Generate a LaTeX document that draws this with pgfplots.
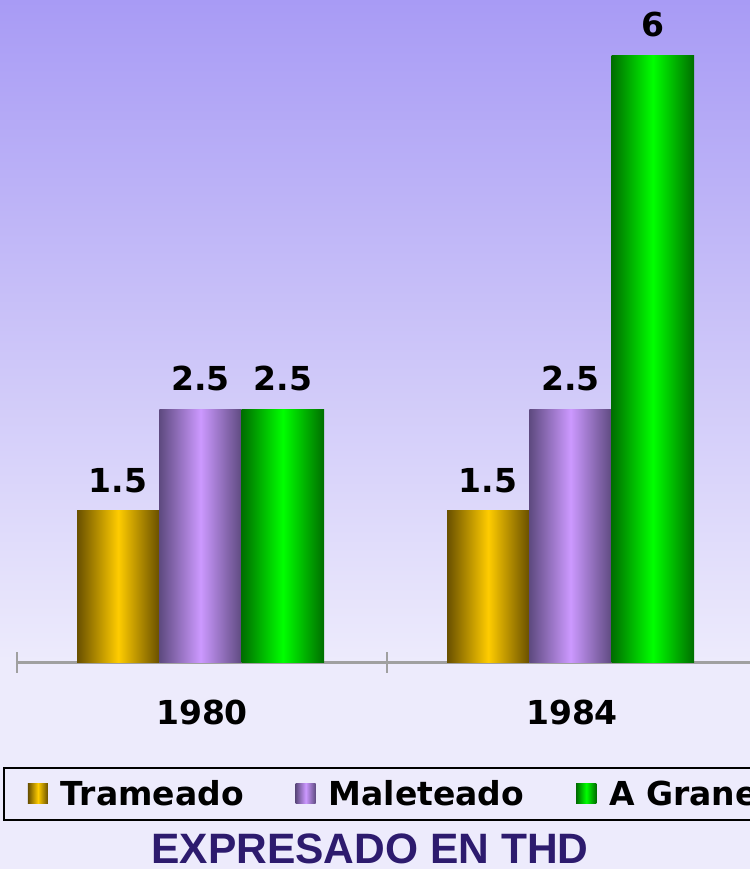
\documentclass[border=0pt]{standalone}
\usepackage{pgfplots}
\pgfplotsset{compat=1.18}
\usepackage{fontspec}
\setmainfont{DejaVu Sans}
\newfontfamily\titlefont{Liberation Sans}
\definecolor{bgtop}{RGB}{168,155,245}
\definecolor{bgbot}{RGB}{237,235,252}
\definecolor{ydark}{RGB}{105,80,0}
\definecolor{ylight}{RGB}{255,204,0}
\definecolor{pdark}{RGB}{94,74,128}
\definecolor{plight}{RGB}{204,153,255}
\definecolor{gdark}{RGB}{0,110,0}
\definecolor{glight}{RGB}{0,255,0}
\definecolor{axgray}{RGB}{160,160,160}
\definecolor{titlecol}{RGB}{45,27,110}
\pgfplotsset{
  serY/.style={ybar, bar width=0.2225, bar shift=-0.2265, draw=none, left color=ydark, right color=ydark, middle color=ylight,
    every node near coord/.append style={xshift=-83.8bp}},
  serP/.style={ybar, bar width=0.2225, bar shift=-0.004, draw=none, left color=pdark, right color=pdark, middle color=plight,
    every node near coord/.append style={xshift=-1.5bp}},
  serG/.style={ybar, bar width=0.2225, bar shift=0.2185, draw=none, left color=gdark, right color=gdark, middle color=glight,
    every node near coord/.append style={xshift=80.8bp}},
}
\begin{document}
\begin{tikzpicture}[x=1bp,y=1bp]
\fill[bgbot] (0,0) rectangle (750,210);
\shade[top color=bgtop, bottom color=bgbot] (0,208) rectangle (750,869);
\begin{axis}[
  at={(17bp,206.5bp)}, anchor=south west,
  scale only axis, width=733bp, height=662.5bp,
  xmin=-0.5, xmax=1.4811, ymin=0, ymax=6.546,
  clip=false,
  axis x line=bottom, axis y line=none,
  axis line style={-, draw=axgray, line width=3bp},
  xtick={0,1}, xticklabels={1980,1984},
  major tick length=0pt,
  minor xtick={-0.5,0.5,1.5},
  minor tick length=21bp,
  tick align=center,
  minor tick style={draw=axgray, line width=2.5bp},
  xticklabel style={font=\fontsize{33bp}{40bp}\selectfont\bfseries, inner sep=0pt, anchor=base, yshift=-62bp},
  /pgf/number format/assume math mode=true,
  nodes near coords,
  every node near coord/.append style={font=\fontsize{33bp}{40bp}\selectfont\bfseries, inner sep=0pt, anchor=south, yshift=18bp, text=black},
  legend columns=3,
  legend style={at={(rel axis cs:-0.0191,-0.1577)}, anchor=north west, draw=black, line width=2bp, fill=none,
    font=\fontsize{33bp}{40bp}\selectfont\bfseries, inner xsep=24bp, inner ysep=10.5bp,
    /tikz/every odd column/.append style={column sep=11bp},
    /tikz/every even column/.append style={column sep=50bp}},
  legend image code/.code={\path[#1, draw=none] (0bp,-10bp) rectangle (20bp,10bp);},
]
\addplot[serY] coordinates {(0,1.5)};
\addlegendentry{Trameado}
\addplot[serP] coordinates {(0,2.5)};
\addlegendentry{Maleteado}
\addplot[serG] coordinates {(0,2.5)};
\addlegendentry{A Granel}
\addplot[serY, forget plot] coordinates {(1,1.5)};
\addplot[serP, forget plot] coordinates {(1,2.5)};
\addplot[serG, forget plot] coordinates {(1,6)};
\end{axis}
\node[anchor=base, inner sep=0pt, font=\titlefont\fontsize{42.5bp}{51bp}\selectfont\bfseries, text=titlecol] at (370,5) {EXPRESADO EN THD};
\pgfresetboundingbox
\useasboundingbox (0,0) rectangle (750,869);
\end{tikzpicture}
\end{document}
